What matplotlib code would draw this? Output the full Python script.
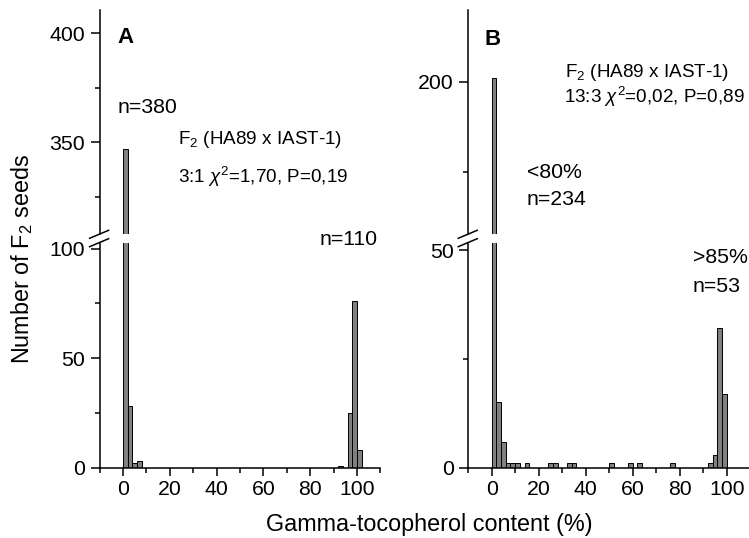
import matplotlib
matplotlib.use("Agg")
import matplotlib.pyplot as plt
from matplotlib.lines import Line2D
import numpy as np

plt.rcParams['font.family'] = ['Liberation Sans', 'DejaVu Sans']
plt.rcParams['mathtext.fontset'] = 'custom'
plt.rcParams['mathtext.rm'] = 'Liberation Sans'
plt.rcParams['mathtext.it'] = 'Liberation Sans:italic'
plt.rcParams['mathtext.bf'] = 'Liberation Sans:bold'

# histogram data, 2 % wide classes (left edge of each class)
a_bins = [0, 2, 4, 6, 92, 96, 98, 100]
a_counts = [347, 28, 2, 3, 1, 25, 76, 8]

b_bins = [0, 2, 4, 6, 8, 10, 14, 24, 26, 32, 34, 50, 58, 62, 76, 92, 94, 96, 98]
b_counts = [201, 15, 6, 1, 1, 1, 1, 1, 1, 1, 1, 1, 1, 1, 1, 1, 3, 32, 17]

W, H = 749, 538
fig = plt.figure(figsize=(W / 100, H / 100), dpi=100)

def fx(px):
    return px / W

def fy(py):
    return 1 - py / H

LW = 1.1
FS = 15.3
FS_NOTE = 13.6

def make_panel(x0, x1, bins, counts, low_lim, up_lim, low_major, low_minor, up_major, up_minor):
    # pixel rows: upper part 10..234, lower part 243..468
    ax_up = fig.add_axes([fx(x0), fy(234.3), fx(x1 - x0), (234.3 - 10) / H])
    ax_lo = fig.add_axes([fx(x0), fy(467.7), fx(x1 - x0), (467.7 - 242.7) / H])
    for ax in (ax_up, ax_lo):
        ax.bar(bins, counts, width=2, align='edge', color='#808080',
               edgecolor='black', linewidth=0.7)
        ax.set_xlim(-10, 110)
        ax.patch.set_alpha(0)
        for s in ('top', 'right'):
            ax.spines[s].set_visible(False)
        ax.spines['left'].set_linewidth(LW)
        ax.spines['bottom'].set_linewidth(LW)
        ax.tick_params(axis='y', which='major', direction='out', length=6.5, width=LW, labelsize=FS, pad=4)
        ax.tick_params(axis='y', which='minor', direction='out', length=3.6, width=LW)
    ax_up.set_ylim(*up_lim)
    ax_lo.set_ylim(*low_lim)
    ax_up.spines['bottom'].set_visible(False)
    ax_up.set_xticks([])
    ax_up.set_yticks(up_major)
    ax_up.set_yticks(up_minor, minor=True)
    ax_lo.set_yticks(low_major)
    ax_lo.set_yticks(low_minor, minor=True)
    ax_lo.set_xticks(np.arange(0, 101, 20))
    ax_lo.set_xticks([-10, 10, 30, 50, 70, 90, 110], minor=True)
    ax_lo.tick_params(axis='x', which='major', direction='out', length=5.8, width=LW, labelsize=FS, pad=3)
    ax_lo.tick_params(axis='x', which='minor', direction='out', length=3.6, width=LW)
    # break marks on the y axis
    for yb in (234.3, 242.7):
        fig.add_artist(Line2D([fx(x0 - 10), fx(x0 + 9)], [fy(yb + 4), fy(yb - 4)],
                              color='black', linewidth=LW))
    return ax_up, ax_lo

make_panel(99.6, 380.4, a_bins, a_counts, (0, 102.7), (308, 410.6),
           [0, 50, 100], [25, 75], [350, 400], [325, 375])
make_panel(468.2, 750.2, b_bins, b_counts, (0, 51.7), (157.7, 219.9),
           [0, 50], [25], [200], [175])

def label(px, py, s, size=FS, **kw):
    fig.text(fx(px), fy(py), s, fontsize=size, va='baseline', ha='left', **kw)

label(117, 43, 'A', size=16, fontweight='bold')
label(118, 113, 'n=380')
label(178, 144, 'F$_2$ (HA89 x IAST-1)', size=FS_NOTE)
label(178, 182.7, '3:1 $\\chi^2$=1,70, P=0,19', size=FS_NOTE)
label(320, 245, 'n=110')

label(485, 45, 'B', size=16, fontweight='bold')
label(565, 76.7, 'F$_2$ (HA89 x IAST-1)', size=FS_NOTE)
label(564, 103.3, '13:3 $\\chi^2$=0,02, P=0,89', size=FS_NOTE)
label(527, 178.3, '<80%')
label(527, 205, 'n=234')
label(693, 263.3, '>85%')
label(693, 291.7, 'n=53')

fig.text(fx(22), fy(259), 'Number of F$_2$ seeds', fontsize=16.8, rotation=90,
         ha='center', va='center')
fig.text(fx(429), fy(531), 'Gamma-tocopherol content (%)', fontsize=16.8,
         ha='center', va='baseline')

fig.savefig('out.png', dpi=100)
